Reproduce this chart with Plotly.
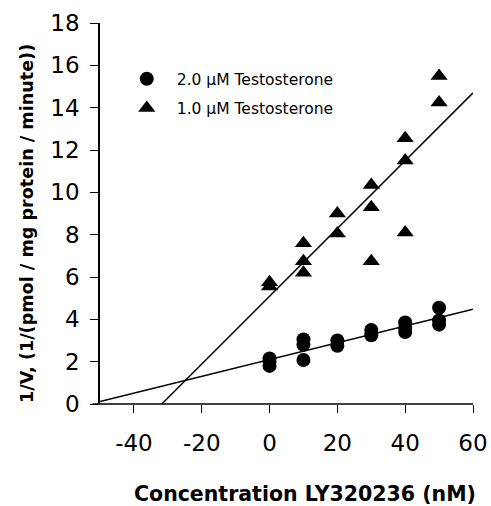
import numpy as np
import plotly.graph_objects as go

# ---- data ----
circ_x = [0, 0, 0, 10, 10, 10, 20, 20, 30, 30, 40, 40, 40, 50, 50, 50]
circ_y = [1.8, 2.0, 2.15, 3.05, 2.8, 2.08, 3.0, 2.75, 3.5, 3.25, 3.85, 3.6, 3.4, 4.55, 3.95, 3.75]
tri_x = [0, 0, 10, 10, 10, 20, 20, 30, 30, 30, 40, 40, 40, 50, 50]
tri_y = [5.75, 5.55, 7.6, 6.75, 6.2, 9.0, 8.05, 10.35, 9.3, 6.75, 12.55, 11.5, 8.1, 15.5, 14.25]
circ_name = "2.0 \u00b5M Testosterone"
tri_name = "1.0 \u00b5M Testosterone"
x_ticks = [-40, -20, 0, 20, 40, 60]
x_ticktext = ["-40", "-20", "0", "20", "40", "60"]
y_ticks = [0, 2, 4, 6, 8, 10, 12, 14, 16, 18]
x_title = "Concentration LY320236 (nM)"
y_title = "1/V, (1/(pmol / mg protein / minute))"
x_range = [-50, 60]
y_range = [0, 18]

FONT = "'DejaVu Sans', Arial, sans-serif"

# linear fits
m_c, b_c = np.polyfit(circ_x, circ_y, 1)
m_t, b_t = np.polyfit(tri_x, tri_y, 1)
xc_line = np.array([x_range[0], x_range[1]])
xt_line = np.array([-b_t / m_t, x_range[1]])

fig = go.Figure()
fig.add_trace(go.Scatter(x=xc_line, y=m_c * xc_line + b_c, mode="lines",
                         line=dict(color="black", width=1.5), showlegend=False, hoverinfo="skip"))
fig.add_trace(go.Scatter(x=xt_line, y=m_t * xt_line + b_t, mode="lines",
                         line=dict(color="black", width=1.5), showlegend=False, hoverinfo="skip"))
fig.add_trace(go.Scatter(x=circ_x, y=circ_y, mode="markers", name=circ_name, legendgroup="a",
                         marker=dict(symbol="circle", size=14, color="black")))
fig.add_trace(go.Scatter(x=tri_x, y=tri_y, mode="markers", name=tri_name, legendgroup="b",
                         marker=dict(symbol="triangle-up", size=15, color="black")))

fig.update_layout(
    width=491, height=506,
    margin=dict(l=100, r=18, t=23, b=102, autoexpand=False),
    paper_bgcolor="white", plot_bgcolor="white",
    font=dict(family=FONT, color="black"),
    showlegend=True,
    legend=dict(x=0.045, y=0.897, xanchor="left", yanchor="top",
                font=dict(size=15.5, family=FONT), bgcolor="rgba(0,0,0,0)",
                tracegroupgap=6, itemsizing="trace", itemwidth=50),
)
fig.update_xaxes(range=x_range, tickvals=x_ticks, ticktext=x_ticktext, ticks="outside",
                 ticklen=8, tickwidth=1.2, tickcolor="black", showline=False, showgrid=False,
                 zeroline=False, tickfont=dict(size=23, family=FONT), ticklabelstandoff=10,
                 automargin=False)
fig.update_yaxes(range=y_range, tickvals=y_ticks, ticks="outside", ticklen=8, tickwidth=1.2,
                 tickcolor="black", showline=True, linecolor="black", linewidth=1.5,
                 showgrid=False, zeroline=False,
                 tickfont=dict(size=23, family=FONT), ticklabelstandoff=6, automargin=False)
# x axis line extending a little left of the y axis
fig.add_shape(type="line", xref="paper", yref="paper", x0=-0.02, x1=1.0, y0=0, y1=0,
              line=dict(color="black", width=1.5))

fig.add_annotation(text="<b>" + x_title + "</b>", xref="paper", yref="paper",
                   x=0.55, y=-0.237, xanchor="center", yanchor="middle", showarrow=False,
                   font=dict(size=20.5, family=FONT))
fig.add_annotation(text="<b>" + y_title + "</b>", xref="paper", yref="paper",
                   x=-0.196, y=0.475, xanchor="center", yanchor="middle", showarrow=False,
                   textangle=-90, font=dict(size=17.6, family=FONT))

fig.write_html("out.html")
